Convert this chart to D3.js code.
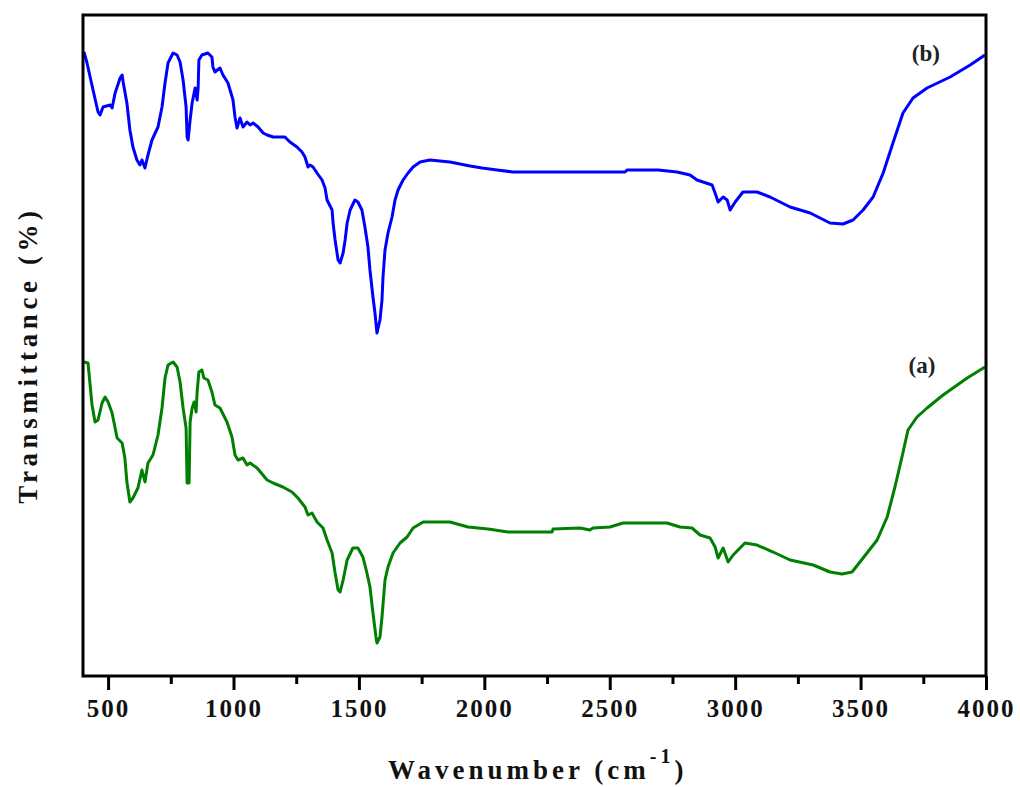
<!DOCTYPE html>
<html>
<head>
<meta charset="utf-8">
<script src="https://cdn.jsdelivr.net/npm/d3@7"></script>
<style>
    body { margin: 0; background: #fff; }
    svg { display: block; }
</style>
</head>
<body>
<div id="chart"></div>
<script>
// ── Data: wavenumber (cm-1) and offset transmittance (a.u.) ──────────

const wavenumberB = [404, 416, 440, 460, 468, 480, 508, 516, 528, 548, 556, 560, 575, 587, 599, 615, 627, 635, 647, 659,
    675, 699, 715, 727, 739, 759, 775, 787, 799, 811, 815, 819, 827, 835, 847, 855, 859, 862, 874, 898,
    914, 918, 926, 946, 958, 978, 998, 1006, 1014, 1026, 1038, 1054, 1066, 1078, 1098, 1118, 1134, 1158, 1205, 1225,
    1253, 1273, 1285, 1297, 1305, 1317, 1333, 1353, 1365, 1373, 1393, 1397, 1405, 1417, 1425, 1437, 1445, 1453, 1465, 1484,
    1496, 1512, 1524, 1536, 1544, 1556, 1564, 1572, 1584, 1592, 1596, 1604, 1616, 1632, 1644, 1656, 1676, 1696, 1716, 1744,
    1783, 1863, 1943, 1991, 2051, 2114, 2561, 2569, 2693, 2768, 2820, 2848, 2908, 2920, 2932, 2952, 2968, 2980, 3000, 3031,
    3087, 3139, 3219, 3299, 3378, 3430, 3470, 3510, 3550, 3590, 3629, 3669, 3709, 3765, 3857, 3937, 3996];
const transB = [124.8, 122.6, 117.2, 112.8, 112.2, 113.8, 114.2, 113.6, 116.6, 119.6, 120.2, 118.8, 114.6, 109.2, 105.8, 103.2, 102.2, 103.2, 101.6, 104.2,
    107.2, 109.8, 113.8, 118.6, 122.6, 124.6, 124.2, 122.8, 119.2, 113.8, 107.8, 107.2, 111.2, 114.6, 117.6, 115.2, 117.6, 123.2, 124.2, 124.6,
    123.8, 121.8, 120.8, 121.6, 120.2, 118.6, 115.2, 111.8, 109.6, 111.6, 109.8, 110.8, 110.2, 110.6, 109.8, 108.6, 108.2, 107.8, 107.8, 106.8,
    105.8, 104.8, 103.8, 101.8, 102.2, 101.8, 100.6, 99.2, 97.6, 95.2, 93.2, 90.6, 87.2, 83.2, 82.6, 84.6, 87.2, 90.6, 93.2, 95.2,
    94.8, 93.2, 89.8, 85.8, 81.2, 75.8, 72.6, 68.6, 71.2, 75.2, 79.8, 85.2, 88.6, 91.8, 95.2, 97.2, 99.2, 100.6, 101.8, 102.8,
    103.2, 102.8, 102.0, 101.6, 101.2, 100.8, 100.8, 101.2, 101.2, 100.8, 100.2, 99.2, 98.2, 96.6, 94.8, 95.8, 95.2, 93.2, 94.8, 96.8,
    96.8, 95.8, 93.8, 92.6, 90.6, 90.4, 91.2, 93.2, 95.8, 100.6, 106.6, 112.6, 115.6, 117.6, 119.8, 122.2, 124.2];

const wavenumberA = [404, 420, 436, 448, 460, 476, 488, 500, 516, 536, 556, 567, 575, 587, 599, 619, 635, 647, 659, 679,
    699, 715, 727, 739, 759, 775, 787, 799, 811, 815, 823, 827, 835, 843, 851, 855, 862, 874, 882, 898,
    914, 926, 946, 974, 994, 1006, 1018, 1038, 1054, 1066, 1094, 1134, 1158, 1197, 1233, 1257, 1285, 1297, 1313, 1333,
    1357, 1373, 1393, 1405, 1417, 1425, 1437, 1453, 1476, 1496, 1516, 1532, 1544, 1556, 1568, 1572, 1584, 1592, 1604, 1616,
    1636, 1664, 1692, 1716, 1736, 1756, 1863, 1935, 2015, 2094, 2270, 2274, 2382, 2421, 2433, 2501, 2553, 2728, 2780, 2828,
    2860, 2900, 2920, 2932, 2952, 2972, 2992, 3039, 3087, 3151, 3219, 3311, 3378, 3426, 3466, 3510, 3566, 3606, 3637, 3665,
    3689, 3725, 3765, 3829, 3925, 3996];
const transA = [62.8, 62.6, 54.2, 50.8, 51.2, 54.6, 55.8, 54.8, 52.6, 47.6, 46.6, 43.6, 38.8, 34.8, 35.6, 37.6, 41.2, 38.8, 42.6, 44.2,
    48.2, 53.6, 59.6, 62.2, 62.8, 61.8, 58.8, 53.6, 49.6, 38.6, 38.6, 50.8, 53.6, 54.8, 52.8, 56.8, 60.8, 61.2, 59.6, 59.2,
    56.8, 54.2, 53.6, 50.8, 47.8, 44.2, 43.2, 43.6, 42.2, 42.6, 41.6, 39.2, 38.6, 37.8, 36.8, 35.6, 33.8, 32.2, 32.6, 30.8,
    29.6, 27.2, 24.6, 20.6, 17.2, 16.8, 19.2, 23.2, 25.6, 25.6, 23.8, 20.6, 17.8, 12.6, 7.8, 6.6, 7.8, 11.8, 19.2, 21.8,
    24.6, 26.6, 27.8, 29.6, 30.2, 30.8, 30.8, 29.8, 29.4, 28.8, 28.8, 29.4, 29.6, 29.2, 29.6, 29.8, 30.6, 30.6, 29.8, 29.6,
    28.2, 27.6, 25.8, 23.6, 25.6, 22.8, 24.2, 26.6, 26.2, 24.8, 23.2, 22.2, 20.8, 20.4, 20.8, 23.6, 27.2, 31.8, 37.8, 43.8,
    49.2, 51.8, 53.6, 56.2, 59.6, 61.8];

const majorTicks = [500, 1000, 1500, 2000, 2500, 3000, 3500, 4000];
const minorTicks = [750, 1250, 1750, 2250, 2750, 3250, 3750];

const seriesLabels = [
    { text: '(b)', w: 3760, t: 123 },
    { text: '(a)', w: 3745, t: 60.6 }
];

// ── Layout ─────────────────────────────

const W = 1020, H = 787;
const margin = { top: 15, right: 34, bottom: 111, left: 83 };
const innerW = W - margin.left - margin.right;
const innerH = H - margin.top - margin.bottom;
const serifFont = '"Liberation Serif", "Times New Roman", "DejaVu Serif", serif';

const svg = d3.select('#chart')
    .append('svg')
    .attr('width', W)
    .attr('height', H);

const g = svg.append('g')
    .attr('transform', `translate(${margin.left},${margin.top})`);

const x = d3.scaleLinear().domain([400, 4000]).range([0, innerW]);
const y = d3.scaleLinear().domain([0, 132.2]).range([innerH, 0]);

// Spectra
const line = d3.line()
    .x(d => x(d[0]))
    .y(d => y(d[1]));

const curves = [
    { w: wavenumberB, t: transB, color: '#0000ff' },
    { w: wavenumberA, t: transA, color: '#008000' }
];

g.selectAll('path.spectrum')
    .data(curves)
    .enter()
    .append('path')
    .attr('class', 'spectrum')
    .attr('fill', 'none')
    .attr('stroke', d => d.color)
    .attr('stroke-width', 3)
    .attr('stroke-linejoin', 'round')
    .attr('d', d => line(d.w.map((w, i) => [w, d.t[i]])));

// Frame
g.append('rect')
    .attr('width', innerW)
    .attr('height', innerH)
    .attr('fill', 'none')
    .attr('stroke', '#000')
    .attr('stroke-width', 3);

// Bottom axis: major + minor ticks
const axisMajor = g.append('g')
    .attr('transform', `translate(0,${innerH})`)
    .call(d3.axisBottom(x).tickValues(majorTicks).tickFormat(d3.format('d'))
        .tickSize(14).tickSizeOuter(0).tickPadding(9));
axisMajor.select('.domain').remove();
axisMajor.selectAll('.tick line').attr('stroke-width', 3);
axisMajor.selectAll('.tick text')
    .style('font-family', serifFont)
    .style('font-weight', 'bold')
    .style('font-size', '25px')
    .style('letter-spacing', '2px')
    .attr('fill', '#111');

const axisMinor = g.append('g')
    .attr('transform', `translate(0,${innerH})`)
    .call(d3.axisBottom(x).tickValues(minorTicks).tickSize(8).tickFormat(''));
axisMinor.select('.domain').remove();
axisMinor.selectAll('.tick line').attr('stroke-width', 3);

// Series labels
g.selectAll('text.series-label')
    .data(seriesLabels)
    .enter()
    .append('text')
    .attr('class', 'series-label')
    .attr('x', d => x(d.w))
    .attr('y', d => y(d.t))
    .attr('text-anchor', 'middle')
    .style('font-family', serifFont)
    .style('font-weight', 'bold')
    .style('font-size', '23px')
    .attr('fill', '#222')
    .text(d => d.text);

// Axis titles
const xTitle = svg.append('text')
    .attr('x', 388)
    .attr('y', 779)
    .style('font-family', serifFont)
    .style('font-weight', 'bold')
    .style('font-size', '27px')
    .style('letter-spacing', '4px')
    .attr('fill', '#111');
xTitle.append('tspan').text('Wavenumber (cm');
xTitle.append('tspan').attr('dy', -16).style('font-size', '20px').text('-1');
xTitle.append('tspan').attr('dy', 16).text(')');

svg.append('text')
    .attr('transform', 'translate(37,355) rotate(-90)')
    .attr('text-anchor', 'middle')
    .style('font-family', serifFont)
    .style('font-weight', 'bold')
    .style('font-size', '27px')
    .style('letter-spacing', '4.6px')
    .attr('fill', '#111')
    .text('Transmittance (%)');
</script>
</body>
</html>
